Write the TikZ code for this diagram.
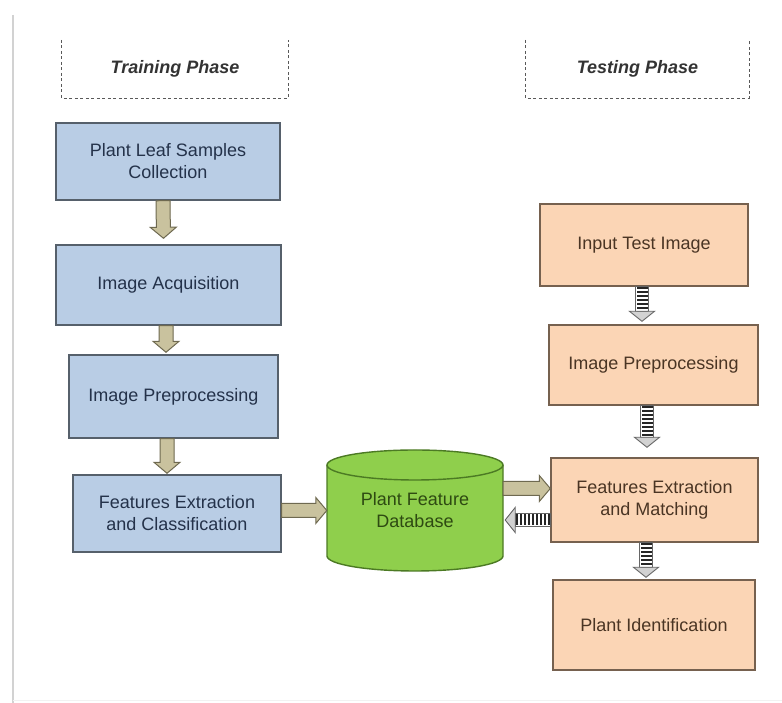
\documentclass[tikz,border=0pt]{standalone}
\usepackage{fontspec}
\setmainfont{Liberation Sans}
\usepackage{xcolor}
\usetikzlibrary{calc}
\definecolor{leafblue}{HTML}{B9CDE5}
\definecolor{leafblueline}{HTML}{56606B}
\definecolor{leafbluetext}{HTML}{24324A}
\definecolor{testorange}{HTML}{FBD5B5}
\definecolor{testorangeline}{HTML}{76614F}
\definecolor{testorangetext}{HTML}{4A3524}
\definecolor{dbgreen}{HTML}{8FCF4C}
\definecolor{dbgreenline}{HTML}{4C7A24}
\definecolor{dbgreentext}{HTML}{2E4A12}
\definecolor{khaki}{HTML}{C9C29E}
\definecolor{khakiline}{HTML}{6E6950}

\newcommand{\fatarrow}[3][]{%
\path (#2) coordinate (fa-s) (#3) coordinate (fa-e);
\path ($(fa-e)!11pt!(fa-s)$) coordinate (fa-h);
\draw [#1] ($(fa-s)!7pt!90:(fa-e)$) -- ($(fa-h)!7pt!90:(fa-e)$) -- ($(fa-h)!13pt!90:(fa-e)$) -- (fa-e) -- ($(fa-h)!13pt!-90:(fa-e)$) -- ($(fa-h)!7pt!-90:(fa-e)$) -- ($(fa-s)!7pt!-90:(fa-e)$) -- cycle;}

\newcommand{\stripearrow}[2]{%
\path (#1) coordinate (sa-s) (#2) coordinate (sa-e);
\path ($(sa-e)!10pt!(sa-s)$) coordinate (sa-h);
\draw [stripeline, fill=white] ($(sa-s)!6.5pt!90:(sa-e)$) -- ($(sa-h)!6.5pt!90:(sa-e)$) -- ($(sa-h)!6.5pt!-90:(sa-e)$) -- ($(sa-s)!6.5pt!-90:(sa-e)$) -- cycle;
\draw [black!85, line width=11pt, dash pattern=on 2.2pt off 1.8pt] (sa-s) -- (sa-h);
\draw [stripeline, fill=gray!35] ($(sa-h)!12.5pt!90:(sa-e)$) -- (sa-e) -- ($(sa-h)!12.5pt!-90:(sa-e)$) -- cycle;}

\begin{document}
\begin{tikzpicture}[x=1pt, y=1pt,
  trainbox/.style={draw=leafblueline, line width=1.4, fill=leafblue, text=leafbluetext, align=center, font=\fontsize{18}{22}\selectfont},
  testbox/.style={draw=testorangeline, line width=1.4, fill=testorange, text=testorangetext, align=center, font=\fontsize{18}{22}\selectfont},
  phasetext/.style={font=\fontsize{18}{22}\selectfont\bfseries\itshape, text=black!80, minimum height=58},
  phaseline/.style={draw=black!65, line width=1.3, dash pattern=on 3pt off 2.5pt},
  dbline/.style={draw=dbgreenline, line width=1.4, fill=dbgreen},
  dbtext/.style={text=dbgreentext, align=center, font=\fontsize{18}{22}\selectfont, minimum width=176, minimum height=121},
  kharrow/.style={draw=khakiline, line width=1, fill=khaki},
  stripeline/.style={draw=black!60, line width=0.9}]
\useasboundingbox (0,0) rectangle (782,703);

\draw [line width=2.5, gray!35] (13,688) -- (13,0);
\draw [line width=1, gray!10] (13,2) -- (782,2);

\node (train) [phasetext, minimum width=226] at (175,634) {Training Phase};
\draw [phaseline] (train.north west) -- (train.south west) -- (train.south east) -- (train.north east);
\node (test) [phasetext, minimum width=223] at (637.5,634) {Testing Phase};
\draw [phaseline] (test.north west) -- (test.south west) -- (test.south east) -- (test.north east);

\node (plc) [trainbox, minimum width=224, minimum height=77] at (168,541.5) {Plant Leaf Samples\\Collection};
\node (acq) [trainbox, minimum width=225, minimum height=80] at (168.5,418) {Image Acquisition};
\node (pre) [trainbox, minimum width=209, minimum height=83] at (173.5,306.5) {Image Preprocessing};
\node (fec) [trainbox, minimum width=208, minimum height=77] at (177,189.5) {Features Extraction\\and Classification};

\draw [dbline] (327,238) -- (327,147) arc (180:360:88 and 15) -- (503,238) arc (0:180:88 and 15) -- cycle;
\draw [dbline, fill=none] (327,238) arc (180:360:88 and 15);
\node (db) [dbtext] at (415,192.5) {Plant Feature\\Database};

\node (iti) [testbox, minimum width=208, minimum height=82] at (644,458) {Input Test Image};
\node (opre) [testbox, minimum width=209, minimum height=80] at (653.5,338) {Image Preprocessing};
\node (fem) [testbox, minimum width=207, minimum height=84] at (654.5,203) {Features Extraction\\and Matching};
\node (pid) [testbox, minimum width=202, minimum height=90] at (654,78) {Plant Identification};

\fatarrow[kharrow]{[xshift=-5pt]plc.south}{[xshift=-5pt,yshift=6pt]acq.north}
\fatarrow[kharrow]{[xshift=-2.5pt]acq.south}{[xshift=-7.5pt,yshift=2pt]pre.north}
\fatarrow[kharrow]{[xshift=-6.5pt]pre.south}{[xshift=-10pt,yshift=1pt]fec.north}
\fatarrow[kharrow]{[yshift=3pt]fec.east}{[yshift=3pt]fec.east -| db.west}
\fatarrow[kharrow]{[yshift=22pt]db.east}{[yshift=22pt]db.east -| fem.west}

\stripearrow{[xshift=-2pt]iti.south}{[xshift=-11.5pt,yshift=3pt]opre.north}
\stripearrow{[xshift=-6.5pt]opre.south}{[xshift=-7.5pt,yshift=10pt]fem.north}
\stripearrow{[xshift=-8.5pt]fem.south}{[xshift=-8pt,yshift=2pt]pid.north}
\stripearrow{[yshift=-9.5pt]db.east -| fem.west}{[xshift=2pt,yshift=-9.5pt]db.east}

\end{tikzpicture}
\end{document}
